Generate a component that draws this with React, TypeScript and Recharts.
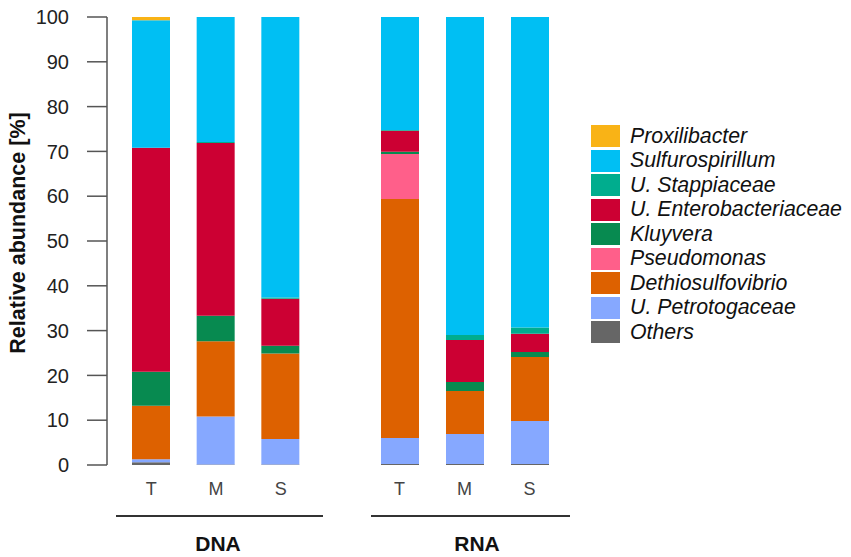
import { BarChart, Bar, XAxis, YAxis } from "recharts";

const samples = ["T", "M", "S"];

const taxa = [
  "Others",
  "U. Petrotogaceae",
  "Dethiosulfovibrio",
  "Pseudomonas",
  "Kluyvera",
  "U. Enterobacteriaceae",
  "U. Stappiaceae",
  "Sulfurospirillum",
  "Proxilibacter",
];

const colors = [
  "#666666",
  "#86a8ff",
  "#dd6100",
  "#ff5f8a",
  "#078a50",
  "#cc0033",
  "#00ad8e",
  "#00bff3",
  "#f9b316",
];

// values per sample in T, M, S order, %
const dnaOthers = [0.6, 0.1, 0.1];
const dnaPetrotogaceae = [0.7, 10.7, 5.7];
const dnaDethiosulfovibrio = [11.9, 16.8, 19.1];
const dnaPseudomonas = [0, 0, 0];
const dnaKluyvera = [7.6, 5.7, 1.7];
const dnaEnterobacteriaceae = [50.0, 38.6, 10.5];
const dnaStappiaceae = [0, 0.2, 0.3];
const dnaSulfurospirillum = [28.5, 27.9, 62.6];
const dnaProxilibacter = [0.7, 0, 0];

const rnaOthers = [0.2, 0.2, 0.2];
const rnaPetrotogaceae = [5.8, 6.7, 9.6];
const rnaDethiosulfovibrio = [53.4, 9.6, 14.3];
const rnaPseudomonas = [10.0, 0, 0];
const rnaKluyvera = [0.5, 2.0, 1.1];
const rnaEnterobacteriaceae = [4.7, 9.4, 4.1];
const rnaStappiaceae = [0.2, 1.1, 1.4];
const rnaSulfurospirillum = [25.2, 71.0, 69.3];
const rnaProxilibacter = [0, 0, 0];

const yTicks = [0, 10, 20, 30, 40, 50, 60, 70, 80, 90, 100];

const dnaSeries = [
  dnaOthers,
  dnaPetrotogaceae,
  dnaDethiosulfovibrio,
  dnaPseudomonas,
  dnaKluyvera,
  dnaEnterobacteriaceae,
  dnaStappiaceae,
  dnaSulfurospirillum,
  dnaProxilibacter,
];
const rnaSeries = [
  rnaOthers,
  rnaPetrotogaceae,
  rnaDethiosulfovibrio,
  rnaPseudomonas,
  rnaKluyvera,
  rnaEnterobacteriaceae,
  rnaStappiaceae,
  rnaSulfurospirillum,
  rnaProxilibacter,
];

function toRows(series: number[][]) {
  return samples.map((s, i) => {
    const row: Record<string, string | number> = { sample: s };
    taxa.forEach((t, k) => (row[t] = series[k][i]));
    return row;
  });
}

const font = "'Liberation Sans', Arial, sans-serif";

const xTick = { fontSize: 18, fill: "#444", fontFamily: font };

function YLabel(props: any) {
  const { viewBox } = props;
  const x = viewBox.x + 18;
  const y = viewBox.y + viewBox.height / 2 - 8;
  return (
    <text
      x={x}
      y={y}
      transform={`rotate(-90 ${x} ${y})`}
      textAnchor="middle"
      dominantBaseline="central"
      fontSize={21.5}
      fontWeight="bold"
      fontFamily={font}
      fill="#111"
    >
      Relative abundance [%]
    </text>
  );
}

function bars() {
  return taxa.map((t, k) => (
    <Bar
      key={t}
      dataKey={t}
      stackId="a"
      fill={colors[k]}
      barSize={38}
      isAnimationActive={false}
    />
  ));
}

export default function App() {
  const dnaData = toRows(dnaSeries);
  const rnaData = toRows(rnaSeries);
  return (
    <div
      style={{
        position: "absolute",
        left: 0,
        top: 0,
        width: 851,
        height: 557,
        background: "#fff",
        fontFamily: font,
      }}
    >
      <div style={{ position: "absolute", left: 0, top: 0 }}>
        <BarChart
          width={330}
          height={500}
          data={dnaData}
          margin={{ top: 17, right: 5, left: 0, bottom: 0 }}
        >
          <YAxis
            width={107}
            domain={[0, 100]}
            ticks={yTicks}
            interval={0}
            tickSize={20}
            tickMargin={18}
            axisLine={{ stroke: "#555", strokeWidth: 1.5 }}
            tickLine={{ stroke: "#555", strokeWidth: 1.5 }}
            tick={{ fontSize: 20, fill: "#222", fontFamily: font }}
            label={<YLabel />}
          />
          <XAxis
            dataKey="sample"
            height={35}
            padding={{ left: 12, right: 12 }}
            axisLine={false}
            tickLine={false}
            tickSize={0}
            tickMargin={17}
            tick={xTick}
          />
          {bars()}
        </BarChart>
      </div>
      <div style={{ position: "absolute", left: 360, top: 0 }}>
        <BarChart
          width={210}
          height={500}
          data={rnaData}
          margin={{ top: 17, right: 8, left: 7, bottom: 0 }}
        >
          <YAxis hide domain={[0, 100]} ticks={yTicks} />
          <XAxis
            dataKey="sample"
            height={35}
            axisLine={false}
            tickLine={false}
            tickSize={0}
            tickMargin={17}
            tick={xTick}
          />
          {bars()}
        </BarChart>
      </div>

      <svg
        width={851}
        height={557}
        style={{ position: "absolute", left: 0, top: 0, pointerEvents: "none" }}
      >
        <line x1={116} x2={323} y1={516} y2={516} stroke="#333" strokeWidth={1.8} />
        <line x1={371} x2={570} y1={516} y2={516} stroke="#333" strokeWidth={1.8} />
        <text x={218} y={551} textAnchor="middle" fontSize={21} fontWeight="bold" fontFamily={font} fill="#111">
          DNA
        </text>
        <text x={477} y={551} textAnchor="middle" fontSize={21} fontWeight="bold" fontFamily={font} fill="#111">
          RNA
        </text>
      </svg>

      <div style={{ position: "absolute", left: 591, top: 124 }}>
        {taxa
          .map((t, k) => ({ t, c: colors[k] }))
          .reverse()
          .map(({ t, c }) => (
            <div
              key={t}
              style={{ display: "flex", alignItems: "center", height: 24.5 }}
            >
              <div style={{ width: 29, height: 22, background: c }} />
              <span
                style={{
                  marginLeft: 10,
                  fontSize: 21.3,
                  fontStyle: "italic",
                  color: "#111",
                  whiteSpace: "nowrap",
                }}
              >
                {t}
              </span>
            </div>
          ))}
      </div>
    </div>
  );
}
